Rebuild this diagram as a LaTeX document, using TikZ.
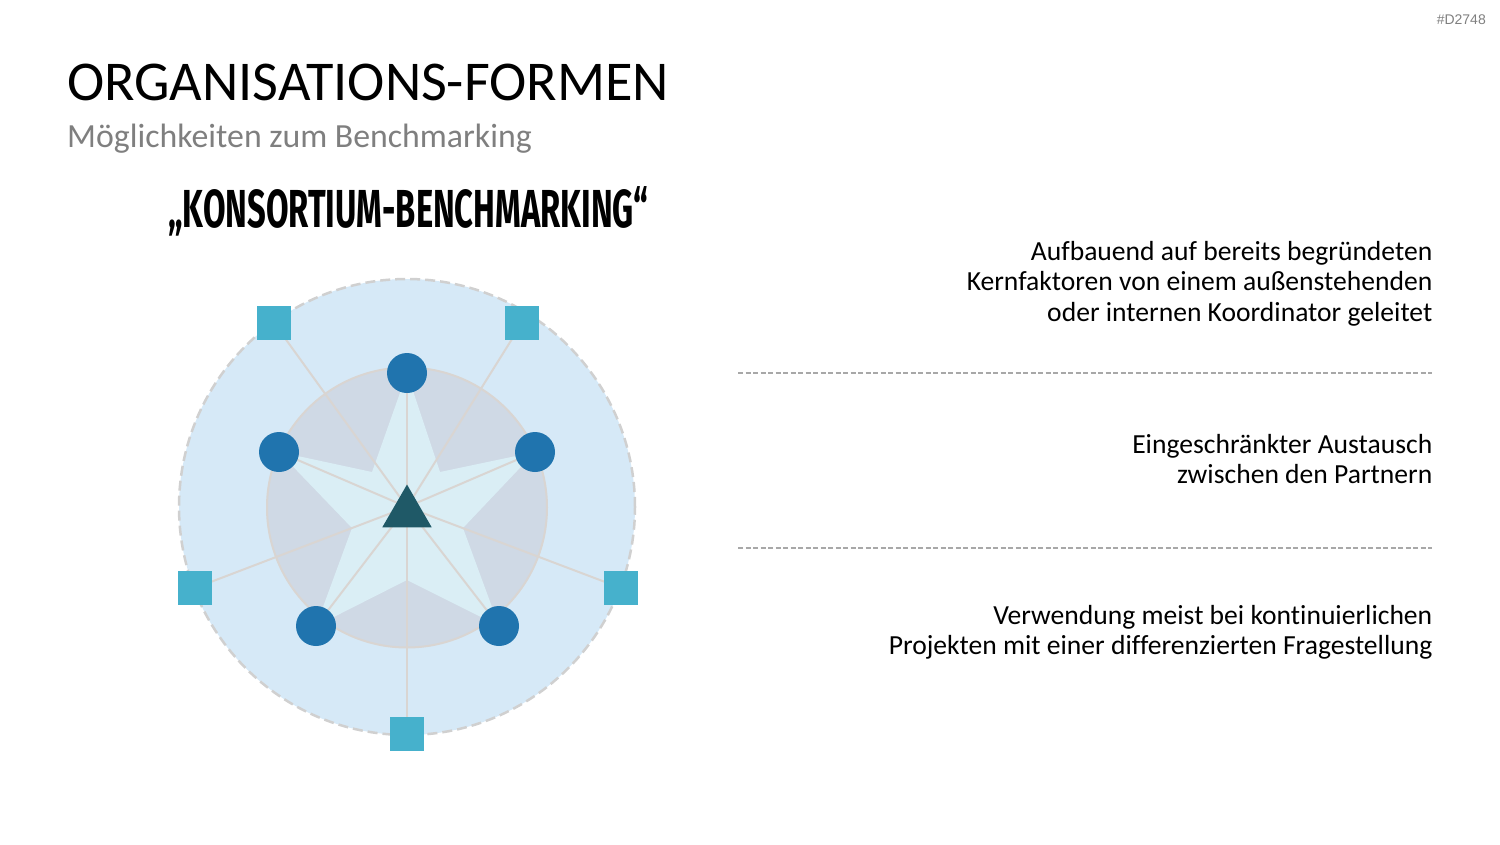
\documentclass[tikz,border=0pt]{standalone}
\usepackage{fontspec}
\setmainfont{Carlito}[Ligatures=NoCommon]
\newfontfamily\headfont{Fira Sans}
\newfontfamily\tagfont{Liberation Sans}
\usetikzlibrary{shapes.geometric}
\definecolor{outerfill}{HTML}{D6E9F7}
\definecolor{innerfill}{HTML}{CFD9E5}
\definecolor{starfill}{HTML}{DAEEF5}
\definecolor{spoke}{HTML}{D9D5D2}
\definecolor{partner}{HTML}{2074AE}
\definecolor{extern}{HTML}{46B1CC}
\definecolor{coord}{HTML}{1F5967}
\definecolor{subgray}{HTML}{7F7F7F}
\definecolor{sepgray}{HTML}{A8A8A8}
\definecolor{ringgray}{HTML}{D0D0D0}
\tikzset{
  partnerdot/.style={circle, fill=partner, minimum size=40pt, inner sep=0pt},
  externbox/.style={rectangle, fill=extern, minimum size=34pt, inner sep=0pt},
  spokeline/.style={draw=spoke, line width=2pt},
  infotext/.style={anchor=north east, align=right, inner sep=0pt, font=\fontsize{27.6}{30.5}\selectfont},
  sepline/.style={draw=sepgray, line width=1.3pt, dash pattern=on 5pt off 2.5pt},
}
\begin{document}
\begin{tikzpicture}[x=1pt,y=-1pt]
\useasboundingbox (0,0) rectangle (1500,844);
% texts
\node[anchor=east, inner sep=0pt, text=subgray, font=\tagfont\fontsize{14}{16}\selectfont] (tag) at (1486,20) {\#D2748};
\node[anchor=base west, inner sep=0pt, font=\fontsize{56.2}{60}\selectfont] (title) at (67,100) {ORGANISATIONS-FORMEN};
\node[anchor=base west, inner sep=0pt, text=subgray, font=\fontsize{33.8}{36}\selectfont] (subtitle) at (67,147.5) {Möglichkeiten zum Benchmarking};
\node[anchor=base west, inner sep=0pt] (heading) at (168,227) {\resizebox{480pt}{\height}{\headfont\bfseries\fontsize{53.5}{60}\selectfont „KONSORTIUM-BENCHMARKING“}};
% diagram
\node[circle, fill=outerfill, draw=ringgray, line width=2.5pt, dash pattern=on 10pt off 5pt, minimum size=456pt, inner sep=0pt] (outer) at (407,507) {};
\node[circle, fill=innerfill, draw=spoke, line width=2pt, minimum size=280pt, inner sep=0pt] (inner) at (407,507.5) {};
\coordinate (c) at (407,507);
\coordinate (ptop) at (407,373);
\coordinate (pur) at (535,452);
\coordinate (plr) at (499,626);
\coordinate (pll) at (316,626);
\coordinate (pul) at (279,452);
\fill[starfill] (ptop) -- (440,472) -- (pur) -- (463,528) -- (plr) -- (407,580) -- (pll) -- (352,528) -- (pul) -- (372,472) -- cycle;
\coordinate (sul) at (274,323);
\coordinate (sur) at (522,323);
\coordinate (sl) at (195,588);
\coordinate (sr) at (621,588);
\coordinate (sb) at (407,734);
\foreach \t in {sul,sur,sl,sr,sb,ptop,pur,plr,pll,pul} \draw[spokeline] (c) -- (\t);
\node[regular polygon, regular polygon sides=3, fill=coord, minimum size=57pt, inner sep=0pt] (tri) at (407,513) {};
\node[partnerdot] (p1) at (ptop) {};
\node[partnerdot] (p2) at (pur) {};
\node[partnerdot] (p3) at (plr) {};
\node[partnerdot] (p4) at (pll) {};
\node[partnerdot] (p5) at (pul) {};
\node[externbox] (e1) at (sul) {};
\node[externbox] (e2) at (sur) {};
\node[externbox] (e3) at (sl) {};
\node[externbox] (e4) at (sr) {};
\node[externbox] (e5) at (sb) {};
% right column
\node[infotext] (info1) at (1432.5,241) {Aufbauend auf bereits begründeten\\Kernfaktoren von einem außenstehenden\\oder internen Koordinator geleitet};
\coordinate (s1a) at (738,373);
\coordinate (s1b) at (1432,373);
\draw[sepline] (s1a) -- (s1b);
\node[infotext] (info2) at (1432.5,434) {Eingeschränkter Austausch\\zwischen den Partnern};
\coordinate (s2a) at (738,548);
\coordinate (s2b) at (1432,548);
\draw[sepline] (s2a) -- (s2b);
\node[infotext] (info3) at (1432.5,605) {Verwendung meist bei kontinuierlichen\\Projekten mit einer differenzierten Fragestellung};
\end{tikzpicture}
\end{document}
